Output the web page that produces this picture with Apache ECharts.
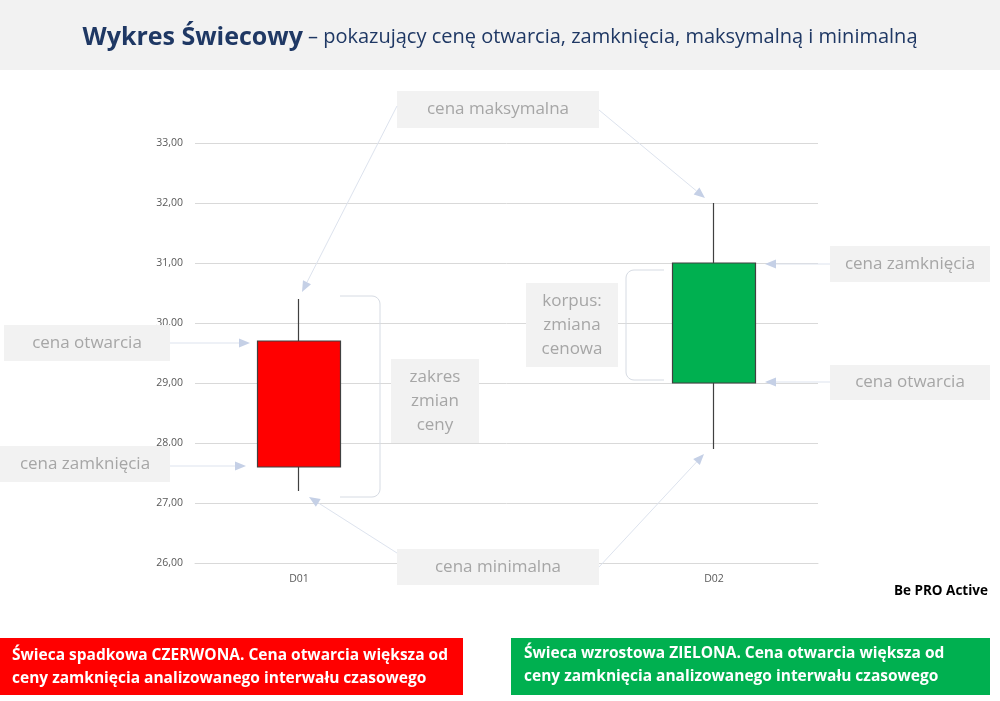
<!DOCTYPE html>
<html><head><meta charset="utf-8">
<script src="https://cdn.jsdelivr.net/npm/echarts@6/dist/echarts.min.js"></script>
<style>html,body{margin:0;padding:0;background:#fff}#c{width:1000px;height:701px}</style>
</head><body><div id="c"></div>
<script>
const categories = ['D01', 'D02'];
const openValues = [29.7, 29.0];
const closeValues = [27.6, 31.0];
const lowValues = [27.2, 27.9];
const highValues = [30.4, 32.0];
const yMin = 26, yMax = 33, yInterval = 1;

const FONT = 'Open Sans';
const chart = echarts.init(document.getElementById('c'));
const candleData = categories.map((c, i) => [openValues[i], closeValues[i], lowValues[i], highValues[i]]);

chart.setOption({
  animation: false,
  backgroundColor: '#ffffff',
  title: {
    left: 'center', top: 20,
    text: '{b|Wykres Świecowy} {n|– pokazujący cenę otwarcia, zamknięcia, maksymalną i minimalną}',
    textStyle: {
      rich: {
        b: { fontFamily: FONT, fontSize: 25, fontWeight: 'bold', color: '#1f3864' },
        n: { fontFamily: FONT, fontSize: 20, fontWeight: 'normal', color: '#1f3864' }
      }
    }
  },
  grid: [
    { left: 195, right: 182, top: 143, bottom: 138 },
    { left: 91.5, width: 830, top: 143, bottom: 138 }
  ],
  xAxis: [{
    type: 'category', data: categories, gridIndex: 0,
    axisLine: { show: true, lineStyle: { color: '#d9d9d9' } },
    axisTick: { show: false }, axisLabel: { show: false }, splitLine: { show: false }
  }, {
    type: 'category', data: categories, gridIndex: 1,
    axisLine: { show: false }, axisTick: { show: false },
    axisLabel: { color: '#595959', fontFamily: FONT, fontSize: 10.5, margin: 11 },
    splitLine: { show: false }
  }],
  yAxis: [{
    type: 'value', min: yMin, max: yMax, interval: yInterval, gridIndex: 0,
    axisLine: { show: false }, axisTick: { show: false },
    axisLabel: { color: '#595959', fontFamily: FONT, fontSize: 10.5, margin: 12,
      formatter: v => v.toFixed(2).replace('.', ',') },
    splitLine: { lineStyle: { color: '#d9d9d9', width: 1 } }
  }, {
    type: 'value', min: yMin, max: yMax, interval: yInterval, gridIndex: 1, show: false
  }],
  series: [{
    type: 'candlestick', data: candleData, barWidth: 83, z: 5, xAxisIndex: 1, yAxisIndex: 1,
    itemStyle: { color: '#00b050', color0: '#ff0000', borderColor: '#404040', borderColor0: '#404040', borderWidth: 1.2 }
  }]
});

function px(cat, val) { return chart.convertToPixel({ gridIndex: 1 }, [cat, val]); }

const LINE = '#dde3ee', HEAD = '#c5d0e6';
function arrow(x1, y1, x2, y2) {
  const a = Math.atan2(y2 - y1, x2 - x1), L = 11, W = 4.5;
  const bx = x2 - L * Math.cos(a), by = y2 - L * Math.sin(a);
  const nx = -Math.sin(a) * W, ny = Math.cos(a) * W;
  return [
    { type: 'line', z: 50, shape: { x1, y1, x2: bx, y2: by }, style: { stroke: LINE, lineWidth: 1 } },
    { type: 'polygon', z: 50, shape: { points: [[x2, y2], [bx + nx, by + ny], [bx - nx, by - ny]] }, style: { fill: HEAD } }
  ];
}
function box(x, y, w, h, text, lh) {
  return [
    { type: 'rect', z: 40, shape: { x, y, width: w, height: h }, style: { fill: '#f2f2f2' } },
    { type: 'text', z: 41, x: x + w / 2, y: y + h / 2,
      style: { text, fill: '#a6a6a6', font: '17px "' + FONT + '"', align: 'center', verticalAlign: 'middle', lineHeight: lh || 24 } }
  ];
}
function bracket(xOpen, xEdge, yTop, yBot, r) {
  const s = Math.sign(xEdge - xOpen);
  const pts = [[xOpen, yTop]];
  const arc = (cx, cy, a0, a1) => { for (let k = 0; k <= 6; k++) { const a = a0 + (a1 - a0) * k / 6; pts.push([cx + r * Math.cos(a), cy + r * Math.sin(a)]); } };
  if (s > 0) {
    arc(xEdge - r, yTop + r, -Math.PI / 2, 0);
    arc(xEdge - r, yBot - r, 0, Math.PI / 2);
  } else {
    arc(xEdge + r, yTop + r, -Math.PI / 2, -Math.PI);
    arc(xEdge + r, yBot - r, Math.PI, Math.PI / 2);
  }
  pts.push([xOpen, yBot]);
  return { type: 'polyline', z: 30, shape: { points: pts }, style: { stroke: '#d6dbe3', fill: null, lineWidth: 1 } };
}

const g = [];
g.push({ type: 'rect', z: -10, shape: { x: 0, y: 0, width: 1000, height: 70 }, style: { fill: '#f2f2f2' } });

const hi1 = px('D01', highValues[0]), lo1 = px('D01', lowValues[0]);
const op1 = px('D01', openValues[0]), cl1 = px('D01', closeValues[0]);
const hi2 = px('D02', highValues[1]), lo2 = px('D02', lowValues[1]);
const op2 = px('D02', openValues[1]), cl2 = px('D02', closeValues[1]);

g.push(bracket(340, 380, hi1[1] - 3, lo1[1] + 6, 8));
g.push(bracket(664, 626, cl2[1] + 7, op2[1] - 3, 8));

g.push(...arrow(397, 106, hi1[0] + 3, hi1[1] - 7));
g.push(...arrow(599, 110, hi2[0] - 9, hi2[1] - 5));
g.push(...arrow(397, 553, lo1[0] + 10, lo1[1] + 6));
g.push(...arrow(599, 567, lo2[0] - 10, lo2[1] + 5));
g.push(...arrow(170, op1[1] + 2, 250, op1[1] + 2));
g.push(...arrow(170, cl1[1] - 1, 246, cl1[1] - 1));
g.push(...arrow(830, cl2[1] + 1, 765, cl2[1] + 1));
g.push(...arrow(830, op2[1] - 1, 765, op2[1] - 1));

g.push(...box(397, 91, 202, 37, 'cena maksymalna'));
g.push(...box(397, 549, 202, 36, 'cena minimalna'));
g.push(...box(4, 325, 166, 36, 'cena otwarcia'));
g.push(...box(0, 446, 170, 36, 'cena zamknięcia'));
g.push(...box(830, 246, 160, 36, 'cena zamknięcia'));
g.push(...box(830, 365, 160, 35, 'cena otwarcia'));
g.push(...box(391, 359, 88, 84, 'zakres\nzmian\nceny'));
g.push(...box(526, 283, 92, 84, 'korpus:\nzmiana\ncenowa'));

g.push({ type: 'text', z: 41, x: 988, y: 591, style: { text: 'Be PRO Active', fill: '#000', font: 'bold 13.5px "' + FONT + '"', align: 'right', verticalAlign: 'middle' } });

g.push({ type: 'rect', z: 40, shape: { x: 0, y: 638, width: 463, height: 57 }, style: { fill: '#ff0000' } });
g.push({ type: 'text', z: 41, x: 12, y: 667, style: { text: 'Świeca spadkowa CZERWONA. Cena otwarcia większa od\nceny zamknięcia analizowanego interwału czasowego', fill: '#fff', font: 'bold 15.5px "' + FONT + '"', verticalAlign: 'middle', lineHeight: 23 } });
g.push({ type: 'rect', z: 40, shape: { x: 511, y: 638, width: 479, height: 57 }, style: { fill: '#00b050' } });
g.push({ type: 'text', z: 41, x: 524, y: 665, style: { text: 'Świeca wzrostowa ZIELONA. Cena otwarcia większa od\nceny zamknięcia analizowanego interwału czasowego', fill: '#fff', font: 'bold 15.5px "' + FONT + '"', verticalAlign: 'middle', lineHeight: 23 } });

chart.setOption({ graphic: g });
</script></body></html>
